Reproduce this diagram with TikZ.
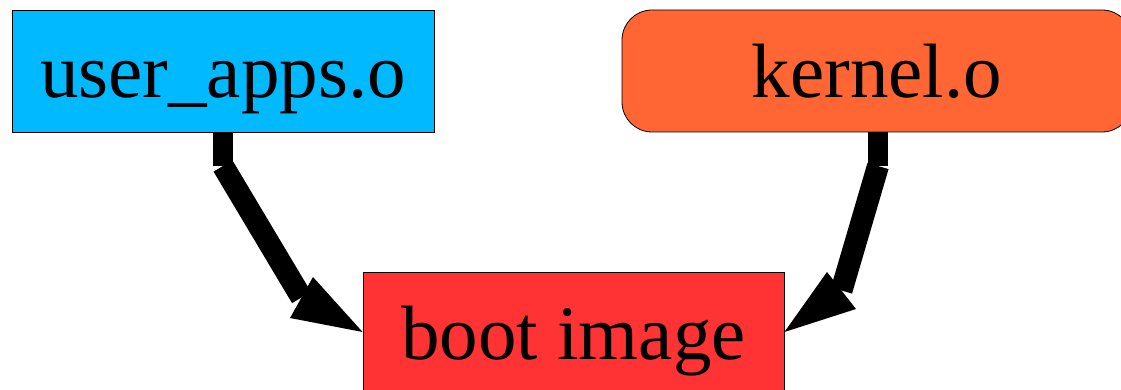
\documentclass[tikz,border=0pt]{standalone}
\usepackage{fontspec}
\setmainfont{Liberation Serif}
\definecolor{userblue}{HTML}{00B9FF}
\definecolor{kernelorange}{HTML}{FF6633}
\definecolor{bootred}{HTML}{FF3333}
\begin{document}
\begin{tikzpicture}[x=1pt,y=-1pt,
  box/.style={draw=black,line width=0.8pt,inner sep=0pt,text height=54pt,text depth=0pt,
    font=\fontsize{77}{80}\selectfont,minimum height=122pt},
  shaft/.style={line width=20pt,line cap=butt,black},
  diag/.style={line width=22pt,line cap=butt,black},
  head/.style={fill=black,draw=none}]
\useasboundingbox (0,0) rectangle (1121,390);
\node[box,fill=userblue,minimum width=422pt] (u) at (223,71) {user\_apps.o};
\node[box,fill=kernelorange,minimum width=510pt,rounded corners=30pt] (k) at (877,71) {kernel.o};
\node[box,fill=bootred,minimum width=421pt,minimum height=120pt] (b) at (573.5,332) {boot image};
% left connector
\coordinate (ub) at (223,166);
\coordinate (ue) at (301.5,297.5);
\draw[shaft] (u.south) -- (ub);
\draw[diag] (ub) -- (ue);
\fill[head] (b.west) -- (290,318) -- (313,277) -- cycle;
% right connector
\coordinate (kt) at (878,132);
\coordinate (kb) at (878,166);
\coordinate (ke) at (841.5,290.5);
\draw[shaft] (kt) -- (kb);
\draw[diag] (kb) -- (ke);
\fill[head] (b.east) -- (827,272) -- (856,309) -- cycle;
\end{tikzpicture}
\end{document}
